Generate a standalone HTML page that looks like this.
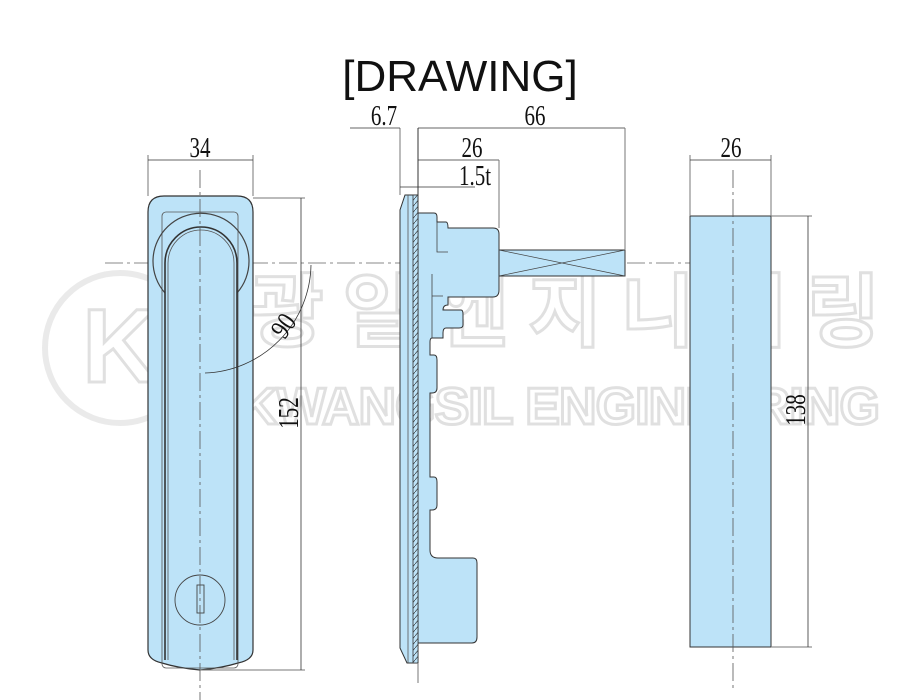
<!DOCTYPE html>
<html><head><meta charset="utf-8"><style>
html,body{margin:0;padding:0;background:#fff;width:921px;height:700px;overflow:hidden}
svg{display:block}
.d{font-family:"Liberation Serif",serif;font-size:28px;fill:#111}
</style></head><body>
<svg width="921" height="700" viewBox="0 0 921 700" xmlns="http://www.w3.org/2000/svg">
<defs>
<pattern id="h" width="5" height="6" patternUnits="userSpaceOnUse">
<rect width="5" height="6" fill="#bde3f8"/><line x1="0" y1="6" x2="5" y2="0" stroke="#333" stroke-width="0.7"/>
</pattern>
</defs>
<text x="460" y="91" text-anchor="middle" font-family="Liberation Sans,sans-serif" font-size="44" fill="#111">[DRAWING]</text>

<line x1="105" y1="263" x2="770" y2="263" stroke="#888" stroke-width="1" stroke-dasharray="18,4,3,4"/>

<g opacity="0.6">
<circle cx="120" cy="348" r="75" fill="none" stroke="#ddd" stroke-width="6"/>
<text x="120" y="382" text-anchor="middle" font-family="Liberation Sans,sans-serif" font-weight="bold" font-size="105" fill="none" stroke="#ccc" stroke-width="3">K</text>
<text x="565" y="340" text-anchor="middle" textLength="630" font-family="Noto Sans CJK KR,sans-serif" font-weight="bold" font-size="80" fill="#fff" stroke="#ccc" stroke-width="3">광일엔지니어링</text>
<text x="560" y="424" text-anchor="middle" textLength="640" font-family="Liberation Sans,sans-serif" font-weight="bold" font-size="52" fill="#fff" stroke="#ccc" stroke-width="3">KWANGSIL ENGINEERING</text>
</g>

<path d="M148,212 Q148,196 164,196 H237 Q253,196 253,212 V650 Q253,660 238,663 Q222,668 200,670 Q178,668 162,663 Q148,660 148,650 Z" fill="#bde3f8" stroke="#333" stroke-width="1.2"/>
<rect x="162" y="212" width="76" height="456" rx="4" fill="none" stroke="#555" stroke-width="0.8"/>
<path d="M165,293 A48,48 0 1 1 237,293" fill="none" stroke="#444" stroke-width="1.2"/>
<path d="M165,660 V263 A36,36 0 0 1 237,263 V660" fill="none" stroke="#333" stroke-width="1.6"/>
<path d="M168,660 V263 A33,33 0 0 1 234,263 V660" fill="none" stroke="#555" stroke-width="0.8"/>
<circle cx="200" cy="600" r="25" fill="none" stroke="#444" stroke-width="0.9"/>
<rect x="197" y="585" width="7" height="28" fill="none" stroke="#444" stroke-width="0.9"/>
<line x1="200" y1="170" x2="200" y2="700" stroke="#555" stroke-width="0.8" stroke-dasharray="18,4,3,4"/>
<line x1="148" y1="155" x2="148" y2="196" stroke="#777"/>
<line x1="253" y1="155" x2="253" y2="196" stroke="#777"/>
<line x1="148" y1="160" x2="253" y2="160" stroke="#333" stroke-width="0.8"/>
<text class="d" transform="translate(200,157) scale(0.75,1)" text-anchor="middle">34</text>
<line x1="253" y1="198" x2="305" y2="198" stroke="#777"/>
<line x1="200" y1="670" x2="305" y2="670" stroke="#777"/>
<line x1="301" y1="198" x2="301" y2="670" stroke="#333" stroke-width="0.8"/>
<text class="d" transform="translate(298,413) rotate(-90) scale(0.75,1)" text-anchor="middle">152</text>
<path d="M311,265 A110,110 0 0 1 205,373" fill="none" stroke="#333" stroke-width="0.8"/>
<text class="d" transform="translate(291,331) rotate(-55) scale(0.8,1)" text-anchor="middle">90</text>

<path d="M418,213 H434 Q437,213 437,217 V222 H446 Q448,222 448,228 H493 Q499,228 499,234 V290 Q499,297 493,297 H448 V305 Q443,305 443,310 H461 Q463,310 463,314 V325 Q463,328 459,328 H446 Q443,328 443,333 V338 H432 Q430,338 430,342 V355 H434 Q437,355 437,360 V388 Q437,393 432,393 H430 V477 H434 Q437,477 437,482 V505 Q437,510 432,510 H430 V550 Q430,558 438,558 H473 Q477,558 477,563 V637 Q477,643 472,643 H418 Z" fill="#bde3f8" stroke="#333" stroke-width="1"/>
<path d="M437,222 V252 H448" fill="none" stroke="#444" stroke-width="0.8"/>
<path d="M432,274 V338 M432,296 H443" fill="none" stroke="#444" stroke-width="0.8"/>
<rect x="499" y="250" width="126" height="26" fill="#bde3f8" stroke="#333" stroke-width="1"/>
<path d="M499,250 L625,276 M499,276 L625,250" stroke="#444" stroke-width="0.7"/>
<polygon points="405,195 418,195 418,663 407,663 400,648 400,210" fill="#bde3f8" stroke="#333" stroke-width="1"/>
<rect x="413" y="195" width="5" height="468" fill="url(#h)" stroke="#333" stroke-width="0.8"/>
<line x1="408" y1="195" x2="408" y2="663" stroke="#555" stroke-width="0.8"/>
<line x1="418" y1="663" x2="418" y2="683" stroke="#777"/>
<line x1="400" y1="128" x2="400" y2="195" stroke="#777"/>
<line x1="418" y1="128" x2="418" y2="213" stroke="#333"/>
<line x1="350" y1="128" x2="400" y2="128" stroke="#333" stroke-width="0.8"/>
<text class="d" transform="translate(384,125) scale(0.75,1)" text-anchor="middle">6.7</text>
<line x1="418" y1="128" x2="625" y2="128" stroke="#333" stroke-width="0.8"/>
<line x1="625" y1="128" x2="625" y2="250" stroke="#777"/>
<text class="d" transform="translate(535,125) scale(0.75,1)" text-anchor="middle">66</text>
<line x1="418" y1="160" x2="499" y2="160" stroke="#333" stroke-width="0.8"/>
<line x1="499" y1="160" x2="499" y2="228" stroke="#777"/>
<text class="d" transform="translate(472,157) scale(0.75,1)" text-anchor="middle">26</text>
<line x1="400" y1="187" x2="475" y2="187" stroke="#333" stroke-width="0.8"/>
<text class="d" transform="translate(475,185) scale(0.75,1)" text-anchor="middle">1.5t</text>

<rect x="690" y="216" width="81" height="431" fill="#bde3f8" stroke="#333" stroke-width="1"/>
<line x1="733" y1="170" x2="733" y2="690" stroke="#555" stroke-width="0.8" stroke-dasharray="18,4,3,4"/>
<line x1="690" y1="155" x2="690" y2="216" stroke="#777"/>
<line x1="771" y1="155" x2="771" y2="216" stroke="#777"/>
<line x1="690" y1="160" x2="771" y2="160" stroke="#333" stroke-width="0.8"/>
<text class="d" transform="translate(731,157) scale(0.75,1)" text-anchor="middle">26</text>
<line x1="771" y1="216" x2="812" y2="216" stroke="#777"/>
<line x1="771" y1="647" x2="812" y2="647" stroke="#777"/>
<line x1="808" y1="216" x2="808" y2="647" stroke="#333" stroke-width="0.8"/>
<text class="d" transform="translate(805,410) rotate(-90) scale(0.75,1)" text-anchor="middle">138</text>
</svg>
</body></html>
